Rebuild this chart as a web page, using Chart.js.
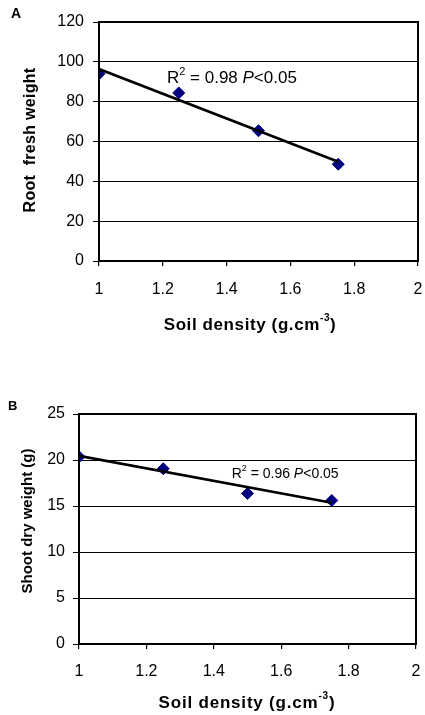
<!DOCTYPE html>
<html>
<head>
<meta charset="utf-8">
<script src="https://cdn.jsdelivr.net/npm/chart.js@4.4.1/dist/chart.umd.min.js"></script>
<style>
  html, body { margin: 0; padding: 0; background: #ffffff; }
  #wrap { position: relative; width: 425px; height: 715px; overflow: hidden; }
  canvas { position: absolute; left: 0; }
  #rootChart { top: 0; }
  #shootChart { top: 357px; }
</style>
</head>
<body>
<div id="wrap">
  <canvas id="rootChart" width="425" height="357"></canvas>
  <canvas id="shootChart" width="425" height="358"></canvas>
</div>
<script>
// Soil density treatments (g.cm-3)
const soilDensity = [1, 1.25, 1.5, 1.75];

// Panel A: root fresh weight
const rootFreshWeight = [94, 84.4, 65.4, 48.6];
// Panel B: shoot dry weight (g)
const shootDryWeight = [20.36, 19.05, 16.37, 15.6];

// Linear trend lines, evaluated at the first and last density
const trendX = [1, 1.75];
const rootTrend = [96.4, 49.8];
const shootTrend = [20.45, 15.35];

// Axis ticks
const xTicks = [1, 1.2, 1.4, 1.6, 1.8, 2];
const rootTicks = [0, 20, 40, 60, 80, 100, 120];
const shootTicks = [0, 5, 10, 15, 20, 25];

const FONT = '"Liberation Sans", Arial, Helvetica, sans-serif';
const MARKER = '#000080';

const pairs = (xs, ys) => xs.map((x, i) => ({ x: x, y: ys[i] }));

// Draws the frame, panel letter, axis titles and the fit annotation
const decorations = {
  id: 'decorations',
  afterDraw(chart, args, opts) {
    const ctx = chart.ctx;
    const a = chart.chartArea;
    const xs = chart.scales.x, ys = chart.scales.y;
    ctx.save();

    // plot frame
    ctx.strokeStyle = '#000';
    ctx.lineWidth = 2;
    ctx.strokeRect(Math.round(a.left), Math.round(a.top),
                   Math.round(a.right) - Math.round(a.left),
                   Math.round(a.bottom) - Math.round(a.top));

    ctx.fillStyle = '#000';
    ctx.textBaseline = 'middle';

    // panel letter
    ctx.font = 'bold ' + opts.panel.size + 'px ' + FONT;
    ctx.textAlign = 'left';
    ctx.fillText(opts.panel.text, opts.panel.x, opts.panel.y);

    // x title with superscript exponent
    const xt = opts.xTitle;
    const supSize = Math.round(xt.size * 0.6);
    if ('letterSpacing' in ctx) ctx.letterSpacing = xt.spacing + 'px';
    ctx.font = 'bold ' + xt.size + 'px ' + FONT;
    const wMain = ctx.measureText(xt.text).width;
    const wTail = ctx.measureText(xt.tail).width;
    ctx.font = 'bold ' + supSize + 'px ' + FONT;
    const wSup = ctx.measureText(xt.sup).width;
    const x0 = xt.x - (wMain + wSup + wTail) / 2;
    ctx.textAlign = 'left';
    ctx.font = 'bold ' + xt.size + 'px ' + FONT;
    ctx.fillText(xt.text, x0, xt.y);
    ctx.font = 'bold ' + supSize + 'px ' + FONT;
    ctx.fillText(xt.sup, x0 + wMain, xt.y - xt.size * 0.42);
    ctx.font = 'bold ' + xt.size + 'px ' + FONT;
    ctx.fillText(xt.tail, x0 + wMain + wSup, xt.y);
    if ('letterSpacing' in ctx) ctx.letterSpacing = '0px';

    // y title, rotated
    const yt = opts.yTitle;
    ctx.save();
    ctx.translate(yt.x, yt.y);
    ctx.rotate(-Math.PI / 2);
    if ('letterSpacing' in ctx) ctx.letterSpacing = yt.spacing + 'px';
    ctx.font = 'bold ' + yt.size + 'px ' + FONT;
    ctx.textAlign = 'center';
    ctx.fillText(yt.text, 0, 0);
    ctx.restore();

    // fit annotation: R² = ... P<0.05
    const n = opts.note;
    let px = xs.getPixelForValue(n.x);
    const py = ys.getPixelForValue(n.y);
    ctx.textAlign = 'left';
    ctx.font = n.size + 'px ' + FONT;
    ctx.fillText('R', px, py); px += ctx.measureText('R').width;
    ctx.font = Math.round(n.size * 0.65) + 'px ' + FONT;
    ctx.fillText('2', px, py - n.size * 0.38); px += ctx.measureText('2').width;
    ctx.font = n.size + 'px ' + FONT;
    const mid = ' = ' + n.r2 + ' ';
    ctx.fillText(mid, px, py); px += ctx.measureText(mid).width;
    ctx.font = 'italic ' + n.size + 'px ' + FONT;
    ctx.fillText('P', px, py); px += ctx.measureText('P').width;
    ctx.font = n.size + 'px ' + FONT;
    ctx.fillText('<0.05', px, py);

    ctx.restore();
  }
};

function buildChart(canvasId, values, trend, yTicks, geo, deco) {
  return new Chart(document.getElementById(canvasId), {
    type: 'scatter',
    data: {
      datasets: [
        {
          data: pairs(trendX, trend),
          showLine: true,
          borderColor: '#000',
          borderWidth: 2.6,
          pointRadius: 0,
          order: 0
        },
        {
          data: pairs(soilDensity, values),
          showLine: false,
          pointStyle: 'rectRot',
          pointRadius: 6,
          backgroundColor: MARKER,
          borderColor: MARKER,
          borderWidth: 1,
          order: 1
        }
      ]
    },
    options: {
      responsive: false,
      animation: false,
      devicePixelRatio: 1,
      layout: { autoPadding: false, padding: { top: geo.top, right: geo.right, left: 0, bottom: 0 } },
      plugins: {
        legend: { display: false },
        tooltip: { enabled: false },
        decorations: deco
      },
      scales: {
        x: {
          type: 'linear',
          min: 1, max: 2,
          afterBuildTicks: s => { s.ticks = xTicks.map(v => ({ value: v })); },
          afterFit: s => { s.height = geo.xHeight; s.paddingLeft = 0; s.paddingRight = 0; },
          grid: { drawOnChartArea: false, drawTicks: true, tickLength: 5, color: '#000', lineWidth: 1.2 },
          border: { display: true, color: '#000', width: 2 },
          ticks: { color: '#000', font: { family: FONT, size: 16 }, padding: geo.xPad, maxRotation: 0,
                   callback: v => String(v) }
        },
        y: {
          type: 'linear',
          min: yTicks[0], max: yTicks[yTicks.length - 1],
          afterBuildTicks: s => { s.ticks = yTicks.map(v => ({ value: v })); },
          afterFit: s => { s.width = geo.left; s.paddingTop = 0; s.paddingBottom = 0; },
          grid: { drawOnChartArea: true, drawTicks: true, tickLength: 6, color: '#000', lineWidth: 1 },
          border: { display: true, color: '#000', width: 2 },
          ticks: { color: '#000', font: { family: FONT, size: 16 }, padding: geo.yPad,
                   callback: v => String(v) }
        }
      }
    },
    plugins: [decorations]
  });
}

buildChart('rootChart', rootFreshWeight, rootTrend, rootTicks,
  { top: 22, right: 7, left: 99, xHeight: 96, xPad: 14, yPad: 9 },
  {
    panel: { text: 'A', x: 11, y: 14, size: 14 },
    xTitle: { text: 'Soil density (g.cm', sup: '-3', tail: ')', x: 250, y: 325, size: 17, spacing: 0.6 },
    yTitle: { text: 'Root  fresh weight', x: 31, y: 140, size: 16, spacing: 0.3 },
    note: { x: 1.213, y: 91.7, size: 17, r2: '0.98' }
  });

buildChart('shootChart', shootDryWeight, shootTrend, shootTicks,
  { top: 57, right: 9, left: 79, xHeight: 71, xPad: 13, yPad: 8 },
  {
    panel: { text: 'B', x: 8, y: 49, size: 13 },
    xTitle: { text: 'Soil density (g.cm', sup: '-3', tail: ')', x: 247, y: 346, size: 17, spacing: 0.8 },
    yTitle: { text: 'Shoot dry weight (g)', x: 28, y: 164, size: 15, spacing: 0 },
    note: { x: 1.453, y: 18.5, size: 14, r2: '0.96' }
  });
</script>
</body>
</html>
